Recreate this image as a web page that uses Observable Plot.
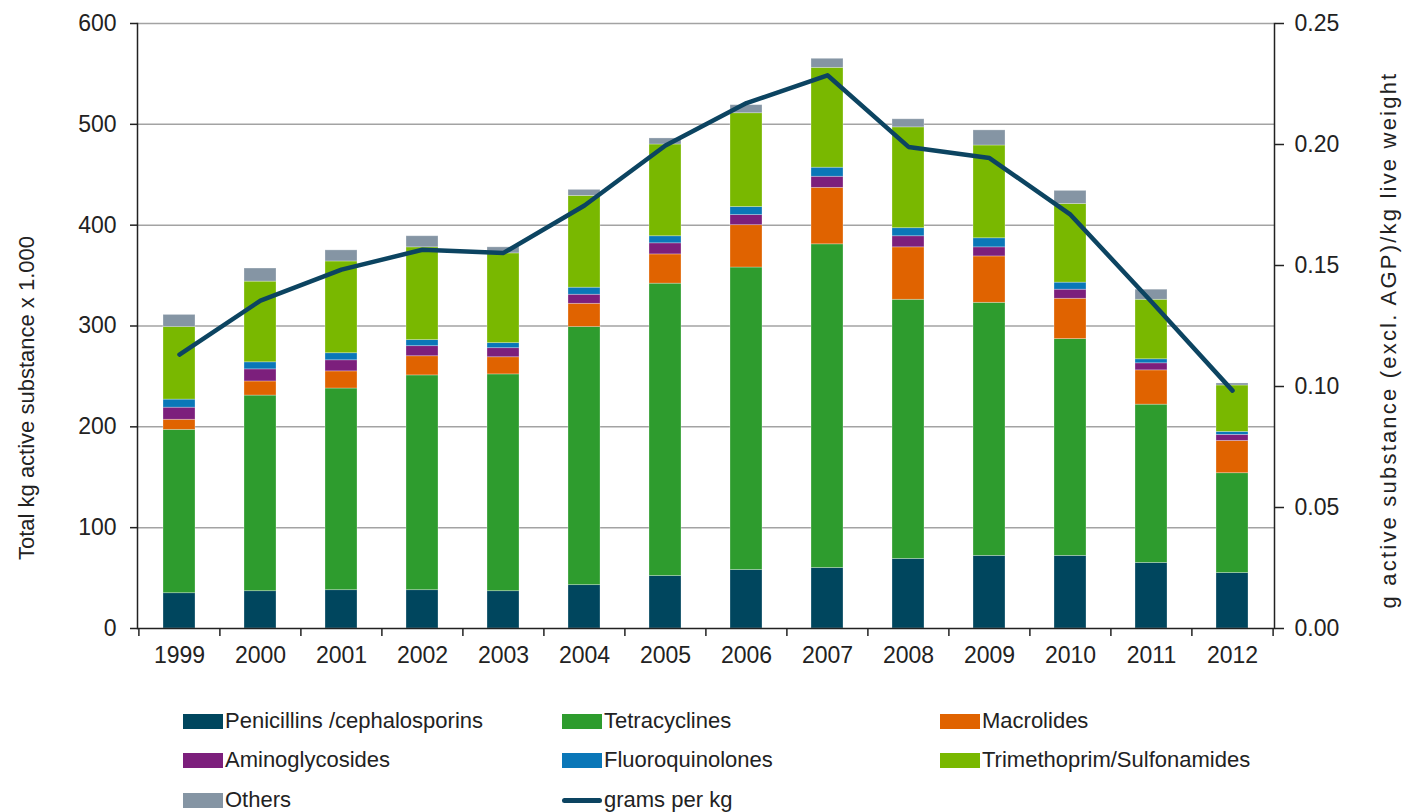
<!DOCTYPE html>
<html><head><meta charset="utf-8">
<script src="https://cdn.jsdelivr.net/npm/d3@7"></script>
<script src="https://cdn.jsdelivr.net/npm/@observablehq/plot@0.6"></script>
<style>
body{margin:0;background:#fff;font-family:"Liberation Sans",Arial,sans-serif;}
#wrap{position:relative;width:1402px;height:812px;overflow:hidden;}
#legend{position:absolute;left:0;top:0;width:1402px;height:812px;pointer-events:none;}
.item{position:absolute;display:flex;align-items:center;font-size:22px;color:#222;height:24px;white-space:nowrap;}
.sw{width:40px;height:15px;margin-right:2px;}
.ln{width:40px;height:5px;border-radius:3px;margin-right:2px;}
.rtitle text{letter-spacing:2.2px;}
</style></head><body><div id="wrap"><div id="chart"></div><div id="legend"></div></div>
<script>
const years = ["1999","2000","2001","2002","2003","2004","2005","2006","2007","2008","2009","2010","2011","2012"];
const seriesNames = ["Penicillins /cephalosporins","Tetracyclines","Macrolides","Aminoglycosides","Fluoroquinolones","Trimethoprim/Sulfonamides","Others"];
const seriesColors = ["#00465e","#2e9c2e","#e06300","#7c1f7c","#0a77b8","#79b800","#8595a4"];
const penicillins      = [35, 37, 38, 38, 37, 43, 52, 58, 60, 69, 72, 72, 65, 55];
const tetracyclines    = [162,194,200,213,215,256,290,300,321,257,251,215,157,99];
const macrolides       = [10, 14, 17, 19, 17, 23, 29, 42, 56, 52, 46, 40, 34, 32];
const aminoglycosides  = [12, 12, 11, 10, 9, 9, 11, 10, 11, 11, 9, 9, 7, 6];
const fluoroquinolones = [8, 7, 7, 6, 5, 7, 7, 8, 9, 8, 9, 7, 4, 3];
const trimethoprim     = [72, 80, 91, 92, 89, 91, 91, 93, 99, 100, 92, 78, 59, 46];
const others           = [12, 13, 11, 11, 6, 6, 6, 8, 9, 8, 15, 13, 10, 2];
const gramsPerKg = [0.1132,0.1355,0.1483,0.1565,0.1552,0.1748,0.1996,0.2171,0.2286,0.1990,0.1944,0.1710,0.1350,0.0983];
const leftTicks = [0,100,200,300,400,500,600];
const rightTicks = [0,0.05,0.10,0.15,0.20,0.25];
const lineName = "grams per kg";
const lineColor = "#0c4461";
const leftTitle = "Total kg active substance x 1.000";
const rightTitle = "g active substance (excl. AGP)/kg live weight";

const seriesValues = [penicillins, tetracyclines, macrolides, aminoglycosides, fluoroquinolones, trimethoprim, others];
const data = [];
seriesNames.forEach((name, s) => years.forEach((y, i) => data.push({year: y, cat: name, value: seriesValues[s][i]})));
const lineData = years.map((y, i) => ({year: y, gpk: gramsPerKg[i]}));
const ratio = leftTicks[leftTicks.length-1] / rightTicks[rightTicks.length-1];

const W = 1402, H = 680, mL = 137, mR = 128, mT = 23, mB = 52;
const step = (W - mL - mR) / years.length;
const font = "'Liberation Sans', Arial, sans-serif";

const chart = Plot.plot({
  width: W, height: H, marginLeft: mL, marginRight: mR, marginTop: mT, marginBottom: mB,
  style: {fontFamily: font, fontSize: "23px", color: "#222", background: "white", overflow: "visible"},
  x: {type: "band", domain: years, paddingInner: 0.6, paddingOuter: 0.3},
  y: {domain: [0, 600]},
  color: {domain: seriesNames, range: seriesColors},
  marks: [
    Plot.ruleY(leftTicks.slice(1), {stroke: "#a3a3a3", strokeWidth: 1.5}),
    Plot.barY(data, {x: "year", y: "value", fill: "cat", stroke: "#ffffff", strokeOpacity: 0.35, strokeWidth: 0.8}),
    Plot.line(lineData, {x: "year", y: d => d.gpk * ratio, stroke: lineColor, strokeWidth: 4.5, strokeLinejoin: "round", strokeLinecap: "round"}),
    Plot.ruleY([0], {stroke: "#222", strokeWidth: 1.5}),
    Plot.frame({anchor: "left", stroke: "#222", strokeWidth: 1.5}),
    Plot.frame({anchor: "right", stroke: "#222", strokeWidth: 1.5}),
    Plot.axisY({anchor: "left", ticks: leftTicks, tickSize: 7, tickPadding: 14, label: null, stroke: "#222", strokeWidth: 1.5}),
    Plot.axisY({anchor: "right", ticks: rightTicks.map(v => v * ratio), tickFormat: d => (d / ratio).toFixed(2), tickSize: 9, tickPadding: 11, label: null, stroke: "#222", strokeWidth: 1.5}),
    Plot.axisX({tickSize: 0, tickPadding: 18, label: null}),
    Plot.axisX({tickSize: 8, tickFormat: () => "", dx: -step / 2, label: null, stroke: "#222", strokeWidth: 1.5}),
    Plot.axisX({ticks: [years[years.length-1]], tickSize: 8, tickFormat: () => "", dx: step / 2, label: null, stroke: "#222", strokeWidth: 1.5}),
    Plot.text([leftTitle], {text: d => d, frameAnchor: "left", textAnchor: "middle", rotate: -90, dx: -111, dy: 72, fontSize: 22, fill: "#222"}),
    Plot.text([rightTitle], {text: d => d, frameAnchor: "right", textAnchor: "middle", rotate: -90, dx: 114, dy: 14, fontSize: 22, fill: "#222", className: "rtitle"})
  ]
});
document.getElementById("chart").appendChild(chart);

// legend (HTML, below the SVG)
const legend = document.getElementById("legend");
const entries = seriesNames.map((n, i) => ({name: n, color: seriesColors[i], line: false}));
entries.push({name: lineName, color: lineColor, line: true});
const colX = [183, 562, 940];
const rowY = [721, 760, 800];
entries.forEach((e, i) => {
  const div = document.createElement("div");
  div.className = "item";
  div.style.left = colX[i % 3] + "px";
  div.style.top = (rowY[Math.floor(i / 3)] - 12) + "px";
  const sw = document.createElement("span");
  sw.className = e.line ? "ln" : "sw";
  sw.style.background = e.color;
  div.appendChild(sw);
  const t = document.createElement("span");
  t.textContent = e.name;
  div.appendChild(t);
  legend.appendChild(div);
});
</script>
</body></html>
